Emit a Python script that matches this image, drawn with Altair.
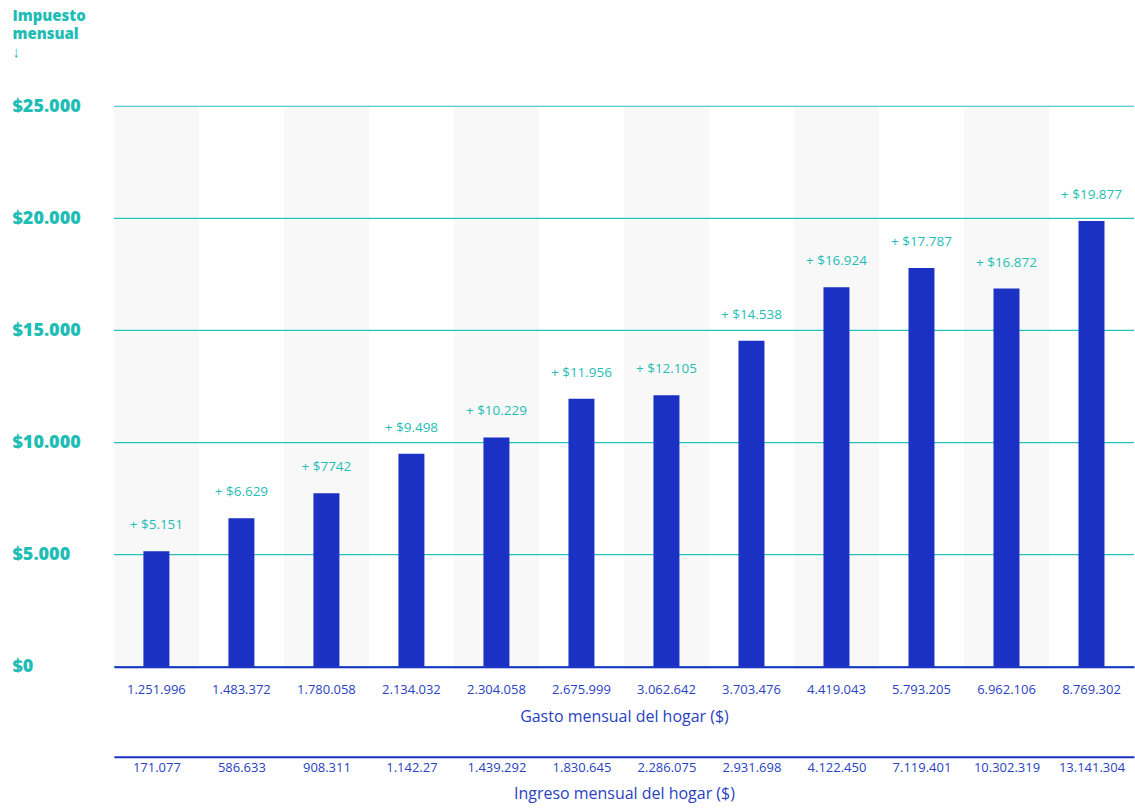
import altair as alt
import pandas as pd

gasto = ["1.251.996", "1.483.372", "1.780.058", "2.134.032", "2.304.058", "2.675.999",
         "3.062.642", "3.703.476", "4.419.043", "5.793.205", "6.962.106", "8.769.302"]
ingreso = ["171.077", "586.633", "908.311", "1.142.27", "1.439.292", "1.830.645",
           "2.286.075", "2.931.698", "4.122.450", "7.119.401", "10.302.319", "13.141.304"]
impuesto = [5151, 6629, 7742, 9498, 10229, 11956, 12105, 14538, 16924, 17787, 16872, 19877]
etiquetas = ["+ $5.151", "+ $6.629", "+ $7742", "+ $9.498", "+ $10.229", "+ $11.956",
             "+ $12.105", "+ $14.538", "+ $16.924", "+ $17.787", "+ $16.872", "+ $19.877"]
sombreado = [True, False, True, False, True, False, True, False, True, False, True, False]
ticks_y = [0, 5000, 10000, 15000, 20000, 25000]

TEAL = "#1fbdb5"
GRID = "#22c2bd"
BLUE = "#1a31c4"
LABEL_BLUE = "#2a3fc2"
BAND = "#f8f8f8"
FONT = "Open Sans"

W = 1021
H = 561

df = pd.DataFrame({
    "gasto": gasto,
    "ingreso": ingreso,
    "impuesto": impuesto,
    "etiqueta": etiquetas,
    "sombra": sombreado,
})
grid_df = pd.DataFrame({"v": ticks_y})

x_enc = alt.X(
    "gasto:N",
    sort=gasto,
    scale=alt.Scale(paddingInner=0, paddingOuter=0),
    axis=alt.Axis(
        title="Gasto mensual del hogar ($)",
        labelAngle=0,
        ticks=False,
        tickSize=0,
        domainColor=BLUE,
        domainWidth=2,
        labelColor=LABEL_BLUE,
        labelFont=FONT,
        labelFontSize=13,
        labelPadding=17,
        titleColor=LABEL_BLUE,
        titleFont=FONT,
        titleFontSize=16,
        titleFontWeight="normal",
        titlePadding=12,
        zindex=2,
    ),
)

y_scale = alt.Scale(domain=[0, 25000])

bands = alt.Chart(df).transform_filter("datum.sombra").mark_rect(color=BAND).encode(
    x=x_enc,
    y=alt.value(0),
    y2=alt.value(H + 3),
)

grid = alt.Chart(grid_df).mark_rule(color=GRID, strokeWidth=1.2).encode(
    y=alt.Y("v:Q", scale=y_scale)
)

bars = alt.Chart(df).mark_bar(color=BLUE, width=26).encode(
    x=x_enc,
    y=alt.Y(
        "impuesto:Q",
        scale=y_scale,
        axis=alt.Axis(
            values=ticks_y,
            labelExpr='"$" + replace(format(datum.value, ","), ",", ".")',
            grid=False,
            domain=False,
            ticks=False,
            tickSize=0,
            labelAlign="left",
            labelBaseline="middle",
            labelPadding=102,
            labelFont=FONT,
            labelFontSize=18,
            labelFontWeight=800,
            labelColor=TEAL,
            title=["Impuesto", "mensual", "\u2193"],
            titleAngle=0,
            titleAlign="left",
            titleBaseline="top",
            titleX=-102,
            titleY=-98,
            titleFont=FONT,
            titleFontSize=15,
            titleFontWeight=800,
            titleLineHeight=18,
            titleColor=TEAL,
        ),
    ),
)

labels = alt.Chart(df).mark_text(
    color=TEAL, font=FONT, fontSize=13.5, baseline="alphabetic", dy=-22
).encode(
    x=x_enc,
    y=alt.Y("impuesto:Q", scale=y_scale),
    text="etiqueta:N",
)

main = alt.layer(bands, grid, bars, labels).properties(width=W, height=H)

second = alt.Chart(df).mark_point(opacity=0).encode(
    x=alt.X(
        "ingreso:N",
        sort=ingreso,
        scale=alt.Scale(paddingInner=0, paddingOuter=0),
        axis=alt.Axis(
            title="Ingreso mensual del hogar ($)",
            labelAngle=0,
            ticks=False,
            tickSize=0,
            domainColor=BLUE,
            domainWidth=2,
            labelColor=LABEL_BLUE,
            labelFont=FONT,
            labelFontSize=13,
            labelPadding=5,
            titleColor=LABEL_BLUE,
            titleFont=FONT,
            titleFontSize=16,
            titleFontWeight="normal",
            titlePadding=11,
        ),
    )
).properties(width=W, height=0)

chart = alt.vconcat(main, second, spacing=12).properties(
    padding={"left": 12, "top": 8, "right": 0, "bottom": 4},
    background="white",
).configure_view(stroke=None)

chart.save("out.html", embed_options={"renderer": "svg", "actions": False})
